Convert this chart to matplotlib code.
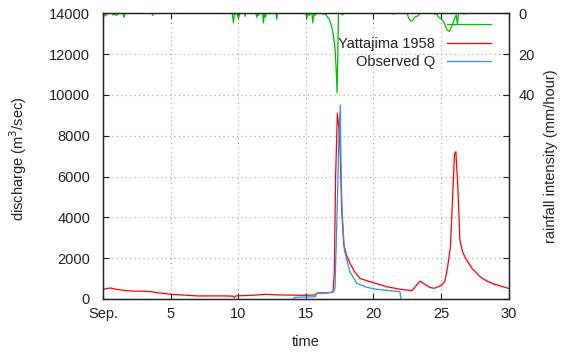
import matplotlib
matplotlib.use("Agg")
import matplotlib.pyplot as plt

plt.rcParams.update({
    "font.family": ["Liberation Sans", "DejaVu Sans"],
    "font.size": 10.5,
    "text.color": "#222222",
    "axes.labelcolor": "#222222",
    "xtick.color": "#222222",
    "ytick.color": "#222222",
})

# time axis: days of September (0 = "Sep.")
x_ticks = [0, 5, 10, 15, 20, 25, 30]
x_ticklabels = ["Sep.", "5", "10", "15", "20", "25", "30"]
y_ticks = [0, 2000, 4000, 6000, 8000, 10000, 12000, 14000]
y2_ticks = [0, 20, 40]

# Yattajima 1958 model discharge (m3/sec)
model_day = [0, 0.5, 1, 2, 3, 3.5, 4, 5, 6, 7, 8, 9, 9.6, 9.7, 9.8, 10.1, 11, 12, 13, 14, 15, 15.7,
             15.8, 16.5, 17.0, 17.1, 17.2, 17.33, 17.45, 17.55, 17.65, 17.8, 18.0, 18.3, 18.6,
             19.0, 19.5, 20.0, 21.0, 22.0, 22.85, 23.1, 23.45, 23.8, 24.2, 24.5, 24.8, 25.1,
             25.3, 25.5, 25.7, 25.85, 26.0, 26.1, 26.25, 26.4, 26.6, 26.9, 27.3, 27.9, 28.4,
             28.9, 29.5, 30]
model_q = [475, 540, 470, 390, 380, 360, 310, 230, 190, 150, 150, 150, 140, 65, 150, 160, 180, 230,
           200, 190, 180, 200, 280, 300, 340, 1200, 6000, 9100, 8300, 7000, 4300, 2700, 2150,
           1700, 1340, 1010, 900, 800, 600, 475, 410, 600, 880, 720, 560, 525, 600, 700, 900, 1600,
           2560, 4800, 7100, 7220, 5500, 2900, 2300, 1910, 1500, 1090, 880, 735, 620, 520]

# observed discharge (m3/sec)
obs_day = [14.1, 14.15, 15.0, 15.7, 15.8, 16.5, 17.0, 17.15, 17.3, 17.45, 17.55, 17.6, 17.68,
           17.85, 18.25, 18.77, 19.5, 20.25, 21.5, 21.95, 22.05]
obs_q = [0, 80, 100, 110, 290, 300, 320, 500, 4000, 8000, 9500, 6500, 4300, 2400, 1340, 770,
         570, 475, 390, 370, 0]

# rainfall intensity (mm/hour), plotted on the inverted right axis
rain_day = [0, 0.05, 0.1, 0.2, 0.3, 0.65, 0.7, 0.8, 0.95, 1.05, 1.15, 1.45, 1.53, 1.6, 3.6, 3.66,
            3.72, 9.55, 9.63, 9.7, 9.9, 10.0, 10.1, 10.45, 10.5, 10.55, 11.3, 11.36, 11.42, 11.48,
            11.55, 11.8, 11.85, 11.92, 12.0, 12.08, 12.78, 12.84, 12.9, 15.0, 15.07, 15.15, 15.26,
            15.35, 15.45, 15.51, 15.58, 15.68, 15.75, 16.2, 16.3, 16.45, 16.55, 16.74, 16.87,
            16.99, 17.09, 17.16, 17.24, 17.31, 17.36, 17.41, 17.6, 17.7, 17.8, 21.4, 21.48, 21.55,
            22.5, 22.6, 22.77, 22.92, 23.09, 23.33, 23.45, 24.5, 24.57, 24.7, 24.81, 25.07, 25.24,
            25.44, 25.63, 25.81, 25.98, 26.13, 26.22, 26.3, 26.6, 26.7, 26.8, 27.0]
rain_mm = [0, 1.5, 0.3, 1.0, 0, 0, 0.8, 0.3, 1.0, 0.6, 0, 0, 2.0, 0, 0, 1.0, 0, 0, 4.7, 0.5, 0,
           2.5, 0, 0, 1.5, 0, 0, 2.0, 0.3, 1.0, 0, 0, 4.7, 0.5, 2.0, 0, 0, 3.0, 0, 0, 2.3, 0.3,
           1.0, 0, 0, 4.7, 0.5, 1.0, 0, 0, 0.5, 0.3, 1.5, 3.0, 5.7, 9.0, 13.5, 17.5, 27.5, 39.0,
           21.0, 0, 0, 0.8, 0, 0, 0.5, 0, 0, 2.3, 3.8, 3.3, 1.7, 1.2, 0, 0, 0.6, 0.3, 1.7, 3.1,
           4.7, 8.0, 8.8, 6.3, 3.1, 0.8, 5.5, 0, 0, 0.5, 0, 0]

fig = plt.figure(figsize=(5.64, 3.56), dpi=100)
ax = fig.add_axes([103.3 / 564, 57 / 356, 405.2 / 564, 285.7 / 356])
ax2 = ax.twinx()

# draw rainfall on the twin axis but keep discharge axis grid underneath
rain_line, = ax2.plot(rain_day, rain_mm, color="#00c000", lw=0.9, label=" ")
model_line, = ax.plot(model_day, model_q, color="#ff0000", lw=0.9, label="Yattajima 1958")
obs_line, = ax.plot(obs_day, obs_q, color="#2d8fef", lw=0.9, label="Observed Q")

ax.set_xlim(0, 30)
ax.set_ylim(0, 14000)
ax.set_xticks(x_ticks)
ax.set_xticklabels(x_ticklabels)
ax.set_yticks(y_ticks)
ax.tick_params(direction="in", length=4.5, width=0.8, top=True, right=True)
ax.tick_params(axis="y", pad=9.5)
ax.tick_params(axis="x", pad=6)
ax.grid(True, color="#a0a0a0", lw=0.8, ls=(0, (1, 3)))

ax2.set_ylim(140, 0)
ax2.set_yticks(y2_ticks)
ax2.tick_params(direction="in", length=4.5, width=0.8, pad=7)

for a in (ax, ax2):
    for s in a.spines.values():
        s.set_linewidth(0.9)
        s.set_color("#222222")

ax.set_xlabel("time")
ax.xaxis.set_label_coords(0.5, -0.1495)
ax.xaxis.label.set_va("center")
ax.set_ylabel("discharge (m$^3$/sec)")
ax.yaxis.set_label_coords(-0.2105, 0.49)
ax.yaxis.label.set_va("center")
ax2.set_ylabel("rainfall intensity (mm/hour)", rotation=90)
ax2.yaxis.set_label_coords(1.105, 0.5)
ax2.yaxis.label.set_va("center")

ax2.legend(handles=[rain_line, model_line, obs_line], labels=["", "Yattajima 1958", "Observed Q"],
           loc="upper right", bbox_to_anchor=(490.5 / 564, (356 - 18.5) / 356),
           bbox_transform=fig.transFigure, frameon=False, markerfirst=False,
           borderpad=0, borderaxespad=0, handlelength=2.95, handletextpad=0.85,
           labelspacing=0.3)

fig.savefig("out.png", dpi=100)
